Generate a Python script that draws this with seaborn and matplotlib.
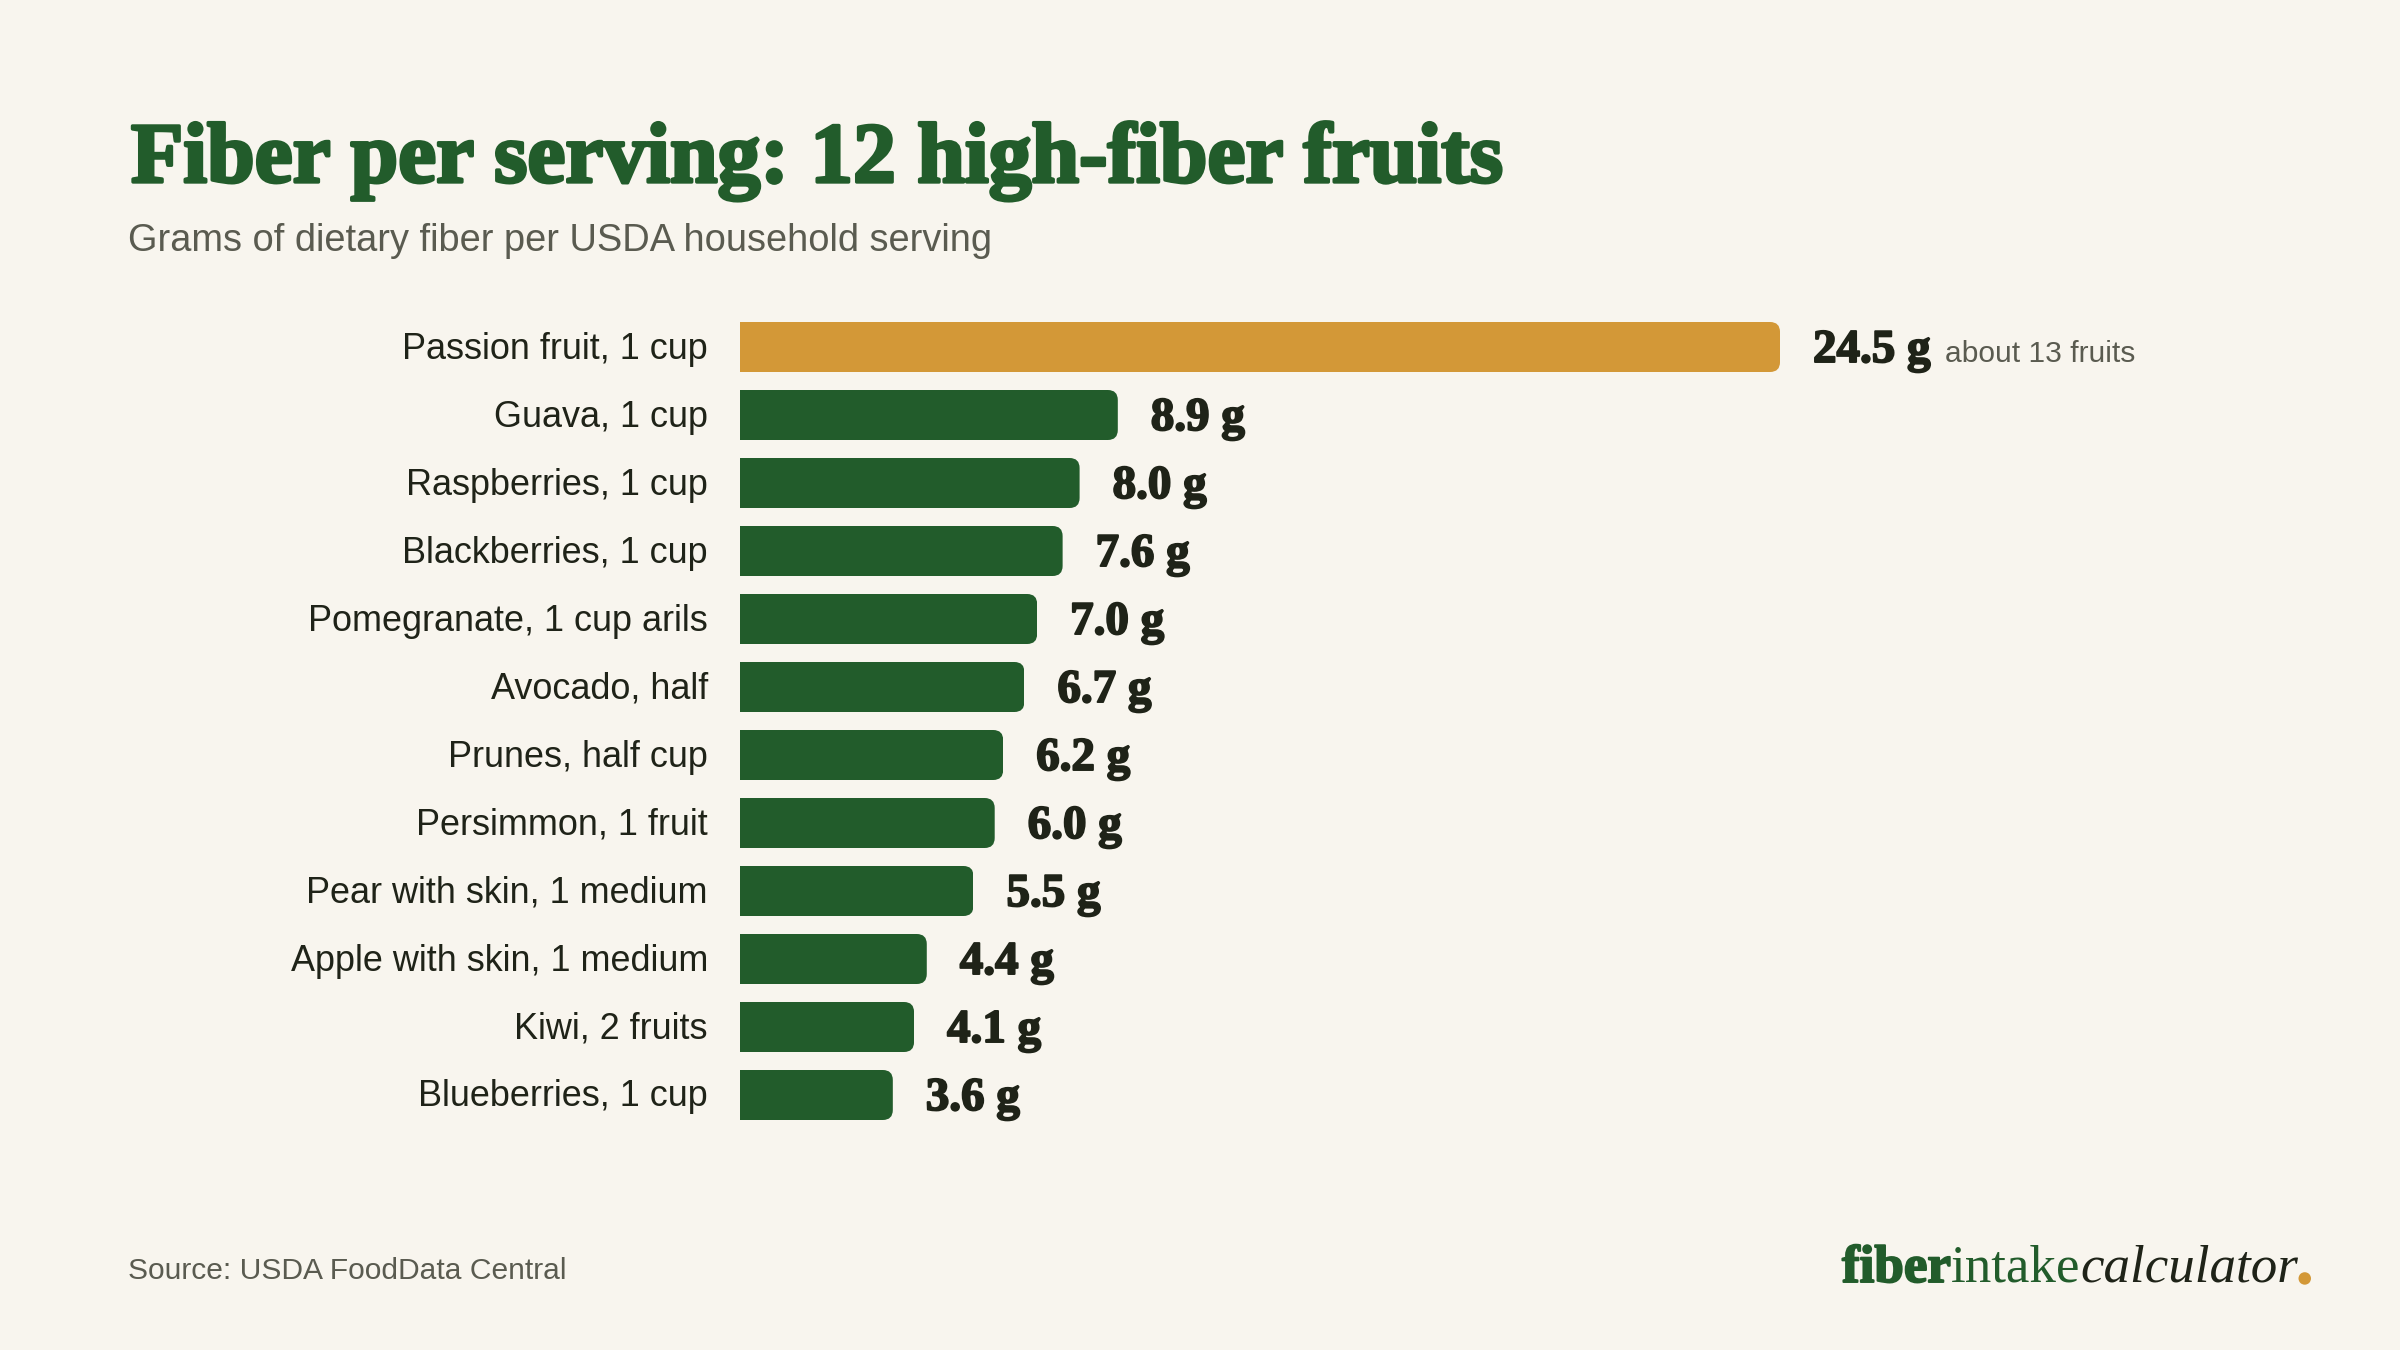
import matplotlib
matplotlib.use('Agg')
import matplotlib.pyplot as plt
import matplotlib.patheffects as pe
from matplotlib.patches import FancyBboxPatch
from matplotlib.transforms import ScaledTranslation
import seaborn as sns

# 数据
fruits = ['Passion fruit, 1 cup', 'Guava, 1 cup', 'Raspberries, 1 cup', 'Blackberries, 1 cup',
          'Pomegranate, 1 cup arils', 'Avocado, half', 'Prunes, half cup', 'Persimmon, 1 fruit',
          'Pear with skin, 1 medium', 'Apple with skin, 1 medium', 'Kiwi, 2 fruits', 'Blueberries, 1 cup']
fiber = [24.5, 8.9, 8.0, 7.6, 7.0, 6.7, 6.2, 6.0, 5.5, 4.4, 4.1, 3.6]
highlight = 'Passion fruit, 1 cup'
note = 'about 13 fruits'

BG = '#F8F5EE'
GREEN = '#225C2B'
GOLD = '#D39837'
DARK = '#1F2318'
GREY = '#5A5B50'
DPI = 200
W, H = 2400, 1350


def px(n):
    # 像素转磅
    return n * 72 / DPI


sns.set_theme(style='white')
plt.rcParams['font.family'] = ['Liberation Sans', 'DejaVu Sans']

fig = plt.figure(figsize=(W / DPI, H / DPI), dpi=DPI, facecolor=BG)
ax = fig.add_axes([740 / W, 1 - 1129 / H, 1560 / W, 816 / H])
ax.set_facecolor('none')

palette = [GOLD if f == highlight else GREEN for f in fruits]
sns.barplot(x=fiber, y=fruits, hue=fruits, palette=palette, width=50 / 68,
            saturation=1, legend=False, linewidth=0, ax=ax)
ax.set_xlim(0, 1560 / 42.45)
ax.set_ylim(11.5, -0.5)
ax.set_xlabel('')
ax.set_ylabel('')
ax.set_xticks([])
ax.tick_params(axis='y', length=0, pad=px(32), labelsize=px(36), labelcolor=DARK)
sns.despine(ax=ax, left=True, bottom=True)

# 类别标签略微上移
shift = ScaledTranslation(0, 2 / DPI, fig.dpi_scale_trans)
for lab in ax.get_yticklabels():
    lab.set_transform(lab.get_transform() + shift)

# 右侧圆角：用圆角框裁剪条形
rx, ry = 10 / 42.45, 10 / 68
for bar in ax.patches:
    x0, y0, w, h = bar.get_x(), bar.get_y(), bar.get_width(), bar.get_height()
    clip = FancyBboxPatch((x0 - 1, y0), w + 1, h, boxstyle=f'round,pad=0,rounding_size={rx}',
                          mutation_aspect=ry / rx, transform=ax.transData)
    bar.set_clip_path(clip)

# 数值标签
heavy = [pe.withStroke(linewidth=0.7, foreground=DARK)]
for i, v in enumerate(fiber):
    ax.annotate(f'{v:.1f} g', xy=(v, i), xytext=(px(33), -px(15)), textcoords='offset points',
                va='baseline', ha='left', fontsize=px(47), color=DARK, fontweight='bold',
                family='Liberation Serif', path_effects=heavy, annotation_clip=False)
ax.annotate(note, xy=(fiber[0], 0), xytext=(px(165), -px(15)), textcoords='offset points',
            va='baseline', ha='left', fontsize=px(30), color=GREY, annotation_clip=False)

# 标题和副标题
fig.text(131 / W, 1 - 182 / H, 'Fiber per serving: 12 high-fiber fruits', fontsize=px(85.6),
         color=GREEN, fontweight='bold', family='Liberation Serif', va='baseline', ha='left',
         path_effects=[pe.withStroke(linewidth=1.2, foreground=GREEN)])
fig.text(128 / W, 1 - 251 / H, 'Grams of dietary fiber per USDA household serving', fontsize=px(38),
         color=GREY, va='baseline', ha='left')
fig.text(128 / W, 1 - 1279 / H, 'Source: USDA FoodData Central', fontsize=px(30),
         color=GREY, va='baseline', ha='left')

# 右下角标志，逐段接排
renderer = fig.canvas.get_renderer()
x_pos = 1842
for word, weight, style, col, stroke in [('fiber', 'bold', 'normal', GREEN, 0.7),
                                         ('intake', 'normal', 'normal', GREEN, 0),
                                         ('calculator', 'normal', 'italic', DARK, 0),
                                         ('.', 'bold', 'normal', GOLD, 1.4)]:
    t = fig.text(x_pos / W, 1 - 1282 / H, word, fontsize=px(53), color=col, fontweight=weight,
                 fontstyle=style, family='Liberation Serif', va='baseline', ha='left')
    if stroke:
        t.set_path_effects([pe.withStroke(linewidth=stroke, foreground=col)])
    x_pos = t.get_window_extent(renderer).x1

fig.savefig('out.png', dpi=DPI, facecolor=BG)
